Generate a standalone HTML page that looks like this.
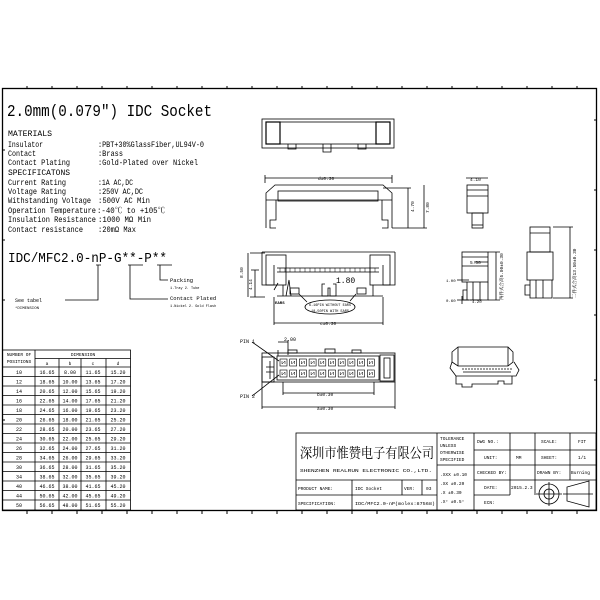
<!DOCTYPE html>
<html><head><meta charset="utf-8"><style>
html,body{margin:0;padding:0;background:#fff;width:600px;height:600px;overflow:hidden}
svg{display:block}
text{font-family:"Liberation Mono","Noto Serif CJK SC",monospace;fill:#000}
</style></head><body>
<svg width="600" height="600" viewBox="0 0 600 600" xmlns="http://www.w3.org/2000/svg">
<defs>
<g id="pc"><rect x="0" y="0" width="7" height="7" fill="none" stroke="#000" stroke-width="0.6"/><path d="M2 2v3l3-3v3" fill="none" stroke="#000" stroke-width="0.5"/></g>
</defs>
<g fill="none" stroke="#000" stroke-width="1">
<rect x="2.5" y="88.5" width="594" height="422" stroke-width="1.3"/>
<path d="M27 88v-2M52 88v-2M77 88v-2M102 88v-2M127 88v-2M152 88v-2M177 88v-2M202 88v-2M227 88v-2M252 88v-2M277 88v-2M302 88v-2M327 88v-2M352 88v-2M377 88v-2M402 88v-2M427 88v-2M452 88v-2M477 88v-2M502 88v-2M527 88v-2M552 88v-2M577 88v-2"/>
<path d="M27 511v3M52 511v3M77 511v3M102 511v3M127 511v3M152 511v3M177 511v3M202 511v3M227 511v3M252 511v3M277 511v3M302 511v3M327 511v3M352 511v3M377 511v3M402 511v3M427 511v3M452 511v3M477 511v3M502 511v3M527 511v3M552 511v3M577 511v3"/>
<path d="M2 150h3M2 240h3M2 300h3M2 420h3M597 120h-3M597 190h-3M597 250h-3M597 315h-3M597 380h-3"/>
</g>

<text x="7" y="116" font-size="17" textLength="205" lengthAdjust="spacingAndGlyphs">2.0mm(0.079″) IDC Socket</text>
<g font-size="8">
<text x="8" y="136" textLength="44" lengthAdjust="spacingAndGlyphs">MATERIALS</text>
<text x="8" y="147" textLength="35" lengthAdjust="spacingAndGlyphs">Insulator</text><text x="98" y="147" textLength="106" lengthAdjust="spacingAndGlyphs">:PBT+30%GlassFiber,UL94V-0</text>
<text x="8" y="156" textLength="28" lengthAdjust="spacingAndGlyphs">Contact</text><text x="98" y="156" textLength="25" lengthAdjust="spacingAndGlyphs">:Brass</text>
<text x="8" y="165" textLength="62" lengthAdjust="spacingAndGlyphs">Contact Plating</text><text x="98" y="165" textLength="100" lengthAdjust="spacingAndGlyphs">:Gold-Plated over Nickel</text>
<text x="8" y="175" textLength="62" lengthAdjust="spacingAndGlyphs">SPECIFICATONS</text>
<text x="8" y="185" textLength="58" lengthAdjust="spacingAndGlyphs">Current Rating</text><text x="98" y="185" textLength="35" lengthAdjust="spacingAndGlyphs">:1A AC,DC</text>
<text x="8" y="194" textLength="58" lengthAdjust="spacingAndGlyphs">Voltage Rating</text><text x="98" y="194" textLength="45" lengthAdjust="spacingAndGlyphs">:250V AC,DC</text>
<text x="8" y="203" textLength="83" lengthAdjust="spacingAndGlyphs">Withstanding Voltage</text><text x="98" y="203" textLength="52" lengthAdjust="spacingAndGlyphs">:500V AC Min</text>
<text x="8" y="213" textLength="88" lengthAdjust="spacingAndGlyphs">Operation Temperature</text><text x="97" y="213" textLength="68" lengthAdjust="spacingAndGlyphs">:-40℃ to +105℃</text>
<text x="8" y="222" textLength="88" lengthAdjust="spacingAndGlyphs">Insulation Resistance</text><text x="98" y="222" textLength="53" lengthAdjust="spacingAndGlyphs">:1000 MΩ Min</text>
<text x="8" y="232" textLength="75" lengthAdjust="spacingAndGlyphs">Contact resistance</text><text x="98" y="232" textLength="38" lengthAdjust="spacingAndGlyphs">:20mΩ Max</text>
</g>
<text x="8" y="262" font-size="14" textLength="159" lengthAdjust="spacingAndGlyphs">IDC/MFC2.0-nP-G**-P**</text>
<g fill="none" stroke="#000" stroke-width="0.8">
<path d="M96 265h5M98 265v35H65M128 265h15M130 265v34h38M157 265h15M160 265v15h8"/>
</g>
<text x="15" y="302" font-size="5">See tabel</text>
<text x="15" y="309" font-size="4">*DIMENSION</text>
<text x="170" y="282" font-size="5.5">Packing</text>
<text x="170" y="289" font-size="3.5">1.Tray 2. Tube</text>
<text x="170" y="300" font-size="5.5">Contact Plated</text>
<text x="170" y="307" font-size="3.5">1.Nickel 2. Gold Flash</text>

<g fill="none" stroke="#000" stroke-width="0.8">
<rect x="2.5" y="350" width="128" height="160"/>
<path d="M35 350v160M35 358.5h95.5M59 358.5v151.5M81 358.5v151.5M106 358.5v151.5M2.5 367h128"/>
<path d="M2.5 376.5h128M2.5 386h128M2.5 395.5h128M2.5 405h128M2.5 414.5h128M2.5 424h128M2.5 433.5h128M2.5 443h128M2.5 452.5h128M2.5 462h128M2.5 471.5h128M2.5 481h128M2.5 490.5h128M2.5 500h128"/>
</g>
<g font-size="4.5" text-anchor="middle">
<text x="19" y="356">NUMBER OF</text><text x="19" y="363">POSITIONS</text>
<text x="83" y="356">DIMENSION</text>
<text x="47" y="365">a</text><text x="70" y="365">b</text><text x="93" y="365">c</text><text x="118" y="365">d</text>
</g>
<g font-size="5" text-anchor="middle">
<text x="19" y="374">10</text><text x="47" y="374">16.65</text><text x="70" y="374">8.00</text><text x="93" y="374">11.65</text><text x="118" y="374">15.20</text>
<text x="19" y="383.5">12</text><text x="47" y="383.5">18.65</text><text x="70" y="383.5">10.00</text><text x="93" y="383.5">13.65</text><text x="118" y="383.5">17.20</text>
<text x="19" y="393">14</text><text x="47" y="393">20.65</text><text x="70" y="393">12.00</text><text x="93" y="393">15.65</text><text x="118" y="393">19.20</text>
<text x="19" y="402.5">16</text><text x="47" y="402.5">22.65</text><text x="70" y="402.5">14.00</text><text x="93" y="402.5">17.65</text><text x="118" y="402.5">21.20</text>
<text x="19" y="412">18</text><text x="47" y="412">24.65</text><text x="70" y="412">16.00</text><text x="93" y="412">19.65</text><text x="118" y="412">23.20</text>
<text x="19" y="421.5">20</text><text x="47" y="421.5">26.65</text><text x="70" y="421.5">18.00</text><text x="93" y="421.5">21.65</text><text x="118" y="421.5">25.20</text>
<text x="19" y="431">22</text><text x="47" y="431">28.65</text><text x="70" y="431">20.00</text><text x="93" y="431">23.65</text><text x="118" y="431">27.20</text>
<text x="19" y="440.5">24</text><text x="47" y="440.5">30.65</text><text x="70" y="440.5">22.00</text><text x="93" y="440.5">25.65</text><text x="118" y="440.5">29.20</text>
<text x="19" y="450">26</text><text x="47" y="450">32.65</text><text x="70" y="450">24.00</text><text x="93" y="450">27.65</text><text x="118" y="450">31.20</text>
<text x="19" y="459.5">28</text><text x="47" y="459.5">34.65</text><text x="70" y="459.5">26.00</text><text x="93" y="459.5">29.65</text><text x="118" y="459.5">33.20</text>
<text x="19" y="469">30</text><text x="47" y="469">36.65</text><text x="70" y="469">28.00</text><text x="93" y="469">31.65</text><text x="118" y="469">35.20</text>
<text x="19" y="478.5">34</text><text x="47" y="478.5">38.65</text><text x="70" y="478.5">32.00</text><text x="93" y="478.5">35.65</text><text x="118" y="478.5">39.20</text>
<text x="19" y="488">40</text><text x="47" y="488">46.65</text><text x="70" y="488">38.00</text><text x="93" y="488">41.65</text><text x="118" y="488">45.20</text>
<text x="19" y="497.5">44</text><text x="47" y="497.5">50.65</text><text x="70" y="497.5">42.00</text><text x="93" y="497.5">45.65</text><text x="118" y="497.5">49.20</text>
<text x="19" y="507">50</text><text x="47" y="507">56.65</text><text x="70" y="507">48.00</text><text x="93" y="507">51.65</text><text x="118" y="507">55.20</text>
</g>

<g fill="none" stroke="#000" stroke-width="0.8">
<rect x="262" y="119" width="132" height="29"/>
<rect x="266" y="122" width="124" height="22"/>
<rect x="266" y="122" width="14" height="22" stroke-width="1.2"/>
<rect x="376" y="122" width="14" height="22" stroke-width="1.2"/>
<path d="M288 144v5h8v-5M323 144v8h8v-8M358 144v5h8v-5"/>
<path d="M265 178h127M265 175v8M392 175v8"/>
<path d="M266 228v-35l9-8h108l9 8v35M266 200h126"/>
<rect x="278" y="191" width="100" height="10"/>
<path d="M276 200v20h-6v8h6M382 200v20h6v8h-6"/>
<path d="M383 188h28M392 228h35M408 188v40M424 185v43"/>
<path d="M466 178h22"/>
<rect x="467" y="185" width="21" height="28"/>
<path d="M467 190h21M467 196h21"/>
<rect x="472" y="213" width="11" height="15"/>
<path d="M472 225h11"/>
<path d="M262 252h133M262 252v33h12v-20M395 252v33h-12v-20"/>
<rect x="266" y="255" width="20" height="30"/>
<rect x="370" y="255" width="20" height="30"/>
<path d="M277 268h102M277 272h102"/>
<path d="M280 268v4M285 268v4M290 268v4M295 268v4M300 268v4M305 268v4M310 268v4M315 268v4M320 268v4M325 268v4M330 268v4M335 268v4M340 268v4M345 268v4M350 268v4M355 268v4M360 268v4M365 268v4M370 268v4M375 268v4" stroke-width="0.5"/>
<path d="M277 296h106M283 285v11M373 285v11"/>
<path d="M286 296l3-16 2 16"/>
<rect x="290" y="288" width="9" height="6"/>
<rect x="357" y="288" width="9" height="6"/>
<path d="M325 284h-3v12h6v-8h2v8h6v-12h-3"/>
<path d="M250 253h15M250 297h15M248 253v44M255 270v27M251 270h8"/>
<ellipse cx="330" cy="307" rx="25" ry="7"/>
<path d="M299 294l8 8M356 294l-6 7"/>
<path d="M274 297v28M383 297v28M274 323h109"/>
<path d="M278 283l-4 7"/>
<rect x="462" y="252" width="26" height="30"/>
<path d="M462 257h26M462 266h26"/>
<path d="M467 282v18h21v-18M473 282v18M480 282v18M463 290h4v10h-4z"/>
<path d="M488 252h12M488 300h12M496 252v48M474 262h14M457 280h12M457 300h12M462 296v8M470 300h12"/>
<rect x="530" y="227" width="20" height="25"/>
<path d="M530 233h20"/>
<rect x="527" y="252" width="26" height="28"/>
<path d="M530 280v18h22v-18M536 280v18M543 280v18M525 285h5v10h-5zM553 227h20M553 298h20M570 227v71"/>
<rect x="262" y="353" width="133" height="29"/>
<rect x="262" y="357" width="12" height="25"/>
<rect x="380" y="355" width="14" height="26"/>
<rect x="384" y="358" width="6" height="20"/>
<rect x="277" y="356" width="102" height="24"/>
<path d="M270 361v18M266 367h8M266 372h8"/>
<rect x="288" y="350" width="9" height="3"/>
<rect x="325" y="349" width="10" height="4"/>
<rect x="352" y="350" width="9" height="3"/>
<path d="M278 350v6M288 340v15M278 342h10"/>
<path d="M252 342l27 19M252 396l27-21"/>
<path d="M283 382v13M374 382v13M283 393h91M262 382v27M395 382v27M262 407h133"/>
<path d="M452 352l6-5h50l5 5v10l-5 4h-50l-6-4z"/>
<path d="M458 347v19M508 347v19M452 362l-2 6 6 8h60l3-6-5-8"/>
<path d="M456 376v8h6v3h10v-3h26v-3h6v3h8v-8M463 372h48"/>
<path d="M462 369h50" stroke-dasharray="2 1"/>
<rect x="296" y="433" width="300" height="77"/>
<path d="M296 480h141M296 495h141M352 480v30M402 480v15M422 480v15M437 433v77M474 433v77M510 433v62M535 433v62M570 433v47M437 465h37M474 450h122M474 465h122M474 480h122M474 495h36"/>
<circle cx="549" cy="494" r="10"/><circle cx="549" cy="494" r="5"/>
<path d="M536 494h26M549 482v24M567 487v14l22 6v-26zM563 494h30"/>
</g>
<g>
<use href="#pc" x="280" y="359"/><use href="#pc" x="289.7" y="359"/><use href="#pc" x="299.4" y="359"/><use href="#pc" x="309.1" y="359"/><use href="#pc" x="318.8" y="359"/><use href="#pc" x="328.5" y="359"/><use href="#pc" x="338.2" y="359"/><use href="#pc" x="347.9" y="359"/><use href="#pc" x="357.6" y="359"/><use href="#pc" x="367.3" y="359"/>
<use href="#pc" x="280" y="370"/><use href="#pc" x="289.7" y="370"/><use href="#pc" x="299.4" y="370"/><use href="#pc" x="309.1" y="370"/><use href="#pc" x="318.8" y="370"/><use href="#pc" x="328.5" y="370"/><use href="#pc" x="338.2" y="370"/><use href="#pc" x="347.9" y="370"/><use href="#pc" x="357.6" y="370"/><use href="#pc" x="367.3" y="370"/>
</g>
<g font-size="5">
<text x="318" y="180" font-size="4.5">d±0.30</text>
<text x="414" y="212" font-size="4.5" transform="rotate(-90 414 212)">4.70</text>
<text x="429" y="213" font-size="4.5" transform="rotate(-90 429 213)">7.80</text>
<text x="470" y="181" font-size="4.5">4.10</text>
<text x="243" y="278" font-size="4.5" transform="rotate(-90 243 278)">8.50</text>
<text x="252" y="290" font-size="4.5" transform="rotate(-90 252 290)">4.14</text>
<text x="336" y="283" font-size="8">1.80</text>
<text x="275" y="304" font-size="4" font-weight="bold">EARS</text>
<text x="330" y="306" font-size="3.5" text-anchor="middle">6-16PIN WITHOUT EARS</text>
<text x="330" y="312" font-size="3.5" text-anchor="middle">18-50PIN WITH EARS</text>
<text x="320" y="325" font-size="4.5">c±0.30</text>
<text x="470" y="264" font-size="4.5">5.50</text>
<text x="446" y="282" font-size="4">1.00</text>
<text x="446" y="302" font-size="4">0.60</text>
<text x="472" y="303" font-size="4">4.20</text>
<text x="503" y="300" font-size="4.5" transform="rotate(-90 503 300)">两件式合高5.00±0.30</text>
<text x="576" y="298" font-size="4.5" transform="rotate(-90 576 298)">二件式合高13.50±0.30</text>
<text x="240" y="343" font-size="5">PIN 1</text>
<text x="240" y="398" font-size="5">PIN 2</text>
<text x="284" y="341" font-size="5">2.00</text>
<text x="317" y="396" font-size="4.5">b±0.30</text>
<text x="317" y="410" font-size="4.5">a±0.30</text>
</g>
<text x="300" y="458" font-size="14" textLength="134" lengthAdjust="spacingAndGlyphs" font-family="'Noto Serif CJK SC','Noto Sans CJK SC',serif">深圳市惟赞电子有限公司</text>
<g font-size="4.5">
<text x="300" y="472" textLength="132" lengthAdjust="spacingAndGlyphs">SHENZHEN REALRUN ELECTRONIC CO.,LTD.</text>
<text x="298" y="490">PRODUCT NAME:</text>
<text x="355" y="490">IDC Socket</text>
<text x="404" y="490">VER:</text>
<text x="426" y="490">03</text>
<text x="298" y="505">SPECIFICATION:</text>
<text x="355" y="505" textLength="80" lengthAdjust="spacingAndGlyphs">IDC/MFC2.0-nP(molex:87568)</text>
<text x="440" y="440">TOLERANCE</text>
<text x="440" y="447">UNLESS</text>
<text x="440" y="454">OTHERWISE</text>
<text x="440" y="461">SPECIFIED</text>
<text x="440" y="476">.XXX ±0.10</text>
<text x="440" y="485">.XX  ±0.20</text>
<text x="440" y="494">.X   ±0.30</text>
<text x="440" y="503">.X°  ±0.5°</text>
<text x="477" y="443">DWG NO.:</text>
<text x="484" y="459">UNIT:</text>
<text x="477" y="474">CHECKED BY:</text>
<text x="484" y="489">DATE:</text>
<text x="484" y="504">ECN:</text>
<text x="516" y="459">MM</text>
<text x="511" y="489">2015.2.3</text>
<text x="541" y="443">SCALE:</text>
<text x="541" y="459">SHEET:</text>
<text x="537" y="474">DRAWN BY:</text>
<text x="578" y="443">FIT</text>
<text x="578" y="459">1/1</text>
<text x="571" y="474">Burning</text>
</g>
</svg>
</body></html>
